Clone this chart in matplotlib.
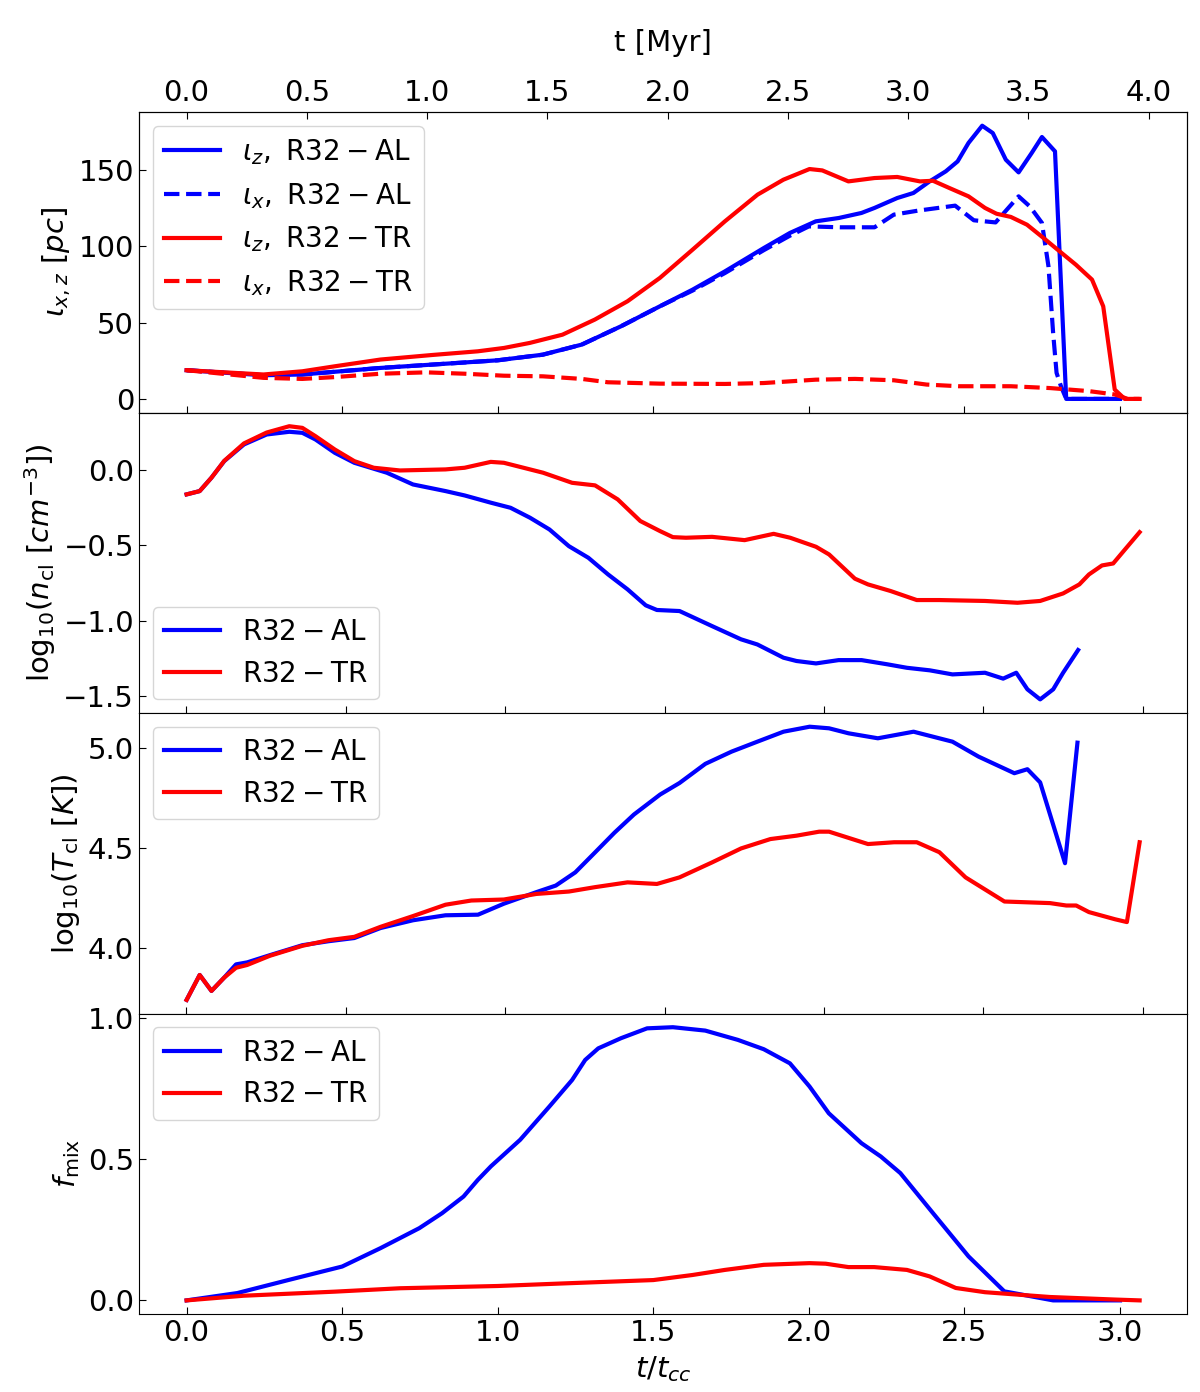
import matplotlib
matplotlib.use('Agg')
import matplotlib.pyplot as plt
import numpy as np

# t_cc in Myr (top axis conversion)
t_cc = 1.2937

# panel 1: iota_z, iota_x [pc]
t_lz_al = [0.0, 0.247, 0.372, 0.623, 0.79, 1.0, 1.145, 1.27, 1.396, 1.521, 1.626, 1.73, 1.855, 1.939,
           2.022, 2.096, 2.169, 2.211, 2.284, 2.336, 2.388, 2.44, 2.478, 2.513, 2.557, 2.591, 2.633,
           2.674, 2.716, 2.749, 2.791, 2.827, 3.0]
lz_al = [18.8, 15.5, 16.0, 20.3, 22.5, 25.3, 29.0, 35.6, 47.6, 60.7, 71.6, 83.6, 98.9, 108.8,
         116.4, 118.6, 121.9, 125.2, 131.7, 135.0, 142.6, 149.2, 155.7, 167.8, 179.1, 174.3, 156.8,
         148.5, 161.2, 171.7, 162.3, 0.0, 0.0]

t_lx_al = [0.0, 0.247, 0.372, 0.623, 0.79, 1.0, 1.145, 1.27, 1.396, 1.521, 1.626, 1.73, 1.855, 1.939,
           2.0, 2.1, 2.211, 2.273, 2.35, 2.47, 2.53, 2.6, 2.674, 2.71, 2.749, 2.77, 2.785, 2.796,
           2.81, 2.827, 3.0]
lx_al = [18.8, 15.5, 16.0, 20.3, 22.5, 25.3, 29.0, 35.6, 47.6, 60.7, 71.0, 82.5, 97.5, 107.0,
         113.1, 112.5, 112.5, 120.8, 123.4, 126.7, 117.1, 115.7, 132.8, 126.2, 115.4, 86.9, 43.2, 17.1,
         8.4, 0.0, 0.0]

t_lz_tr = [0.0, 0.247, 0.372, 0.477, 0.623, 0.79, 0.936, 1.02, 1.103, 1.208, 1.312, 1.417, 1.521,
           1.626, 1.73, 1.835, 1.918, 2.002, 2.043, 2.127, 2.211, 2.284, 2.357, 2.399, 2.451, 2.513,
           2.566, 2.603, 2.649, 2.701, 2.754, 2.806, 2.858, 2.91, 2.946, 2.983, 3.015, 3.063]
lz_tr = [18.8, 16.0, 18.1, 21.4, 25.8, 28.8, 31.2, 33.4, 36.7, 42.1, 52.0, 64.0, 79.3,
         97.8, 116.4, 133.9, 143.7, 150.7, 149.8, 142.6, 144.8, 145.5, 142.6, 143.0, 138.3, 132.8,
         125.2, 121.4, 119.3, 114.2, 105.5, 96.7, 88.0, 78.2, 60.7, 6.1, 0.0, 0.0]

t_lx_tr = [0.0, 0.247, 0.372, 0.477, 0.623, 0.77, 0.894, 1.02, 1.145, 1.27, 1.354, 1.521, 1.73,
           1.855, 2.022, 2.148, 2.273, 2.378, 2.482, 2.649, 2.775, 2.9, 2.983, 3.025, 3.063]
lx_tr = [18.8, 13.8, 13.1, 14.3, 16.5, 17.4, 16.5, 15.2, 14.8, 13.1, 10.9, 10.0, 9.8,
         10.4, 12.6, 13.1, 12.2, 9.4, 8.3, 8.3, 7.1, 5.1, 2.9, 0.0, 0.0]

# panel 2: log10(n_cl)
t_n_al = [0.001, 0.042, 0.079, 0.119, 0.181, 0.252, 0.323, 0.364, 0.405, 0.466, 0.527, 0.629, 0.711,
          0.813, 0.873, 0.955, 1.017, 1.078, 1.139, 1.2, 1.261, 1.323, 1.384, 1.441, 1.476, 1.547,
          1.649, 1.74, 1.791, 1.873, 1.914, 1.975, 2.046, 2.118, 2.199, 2.26, 2.332, 2.403, 2.505,
          2.562, 2.603, 2.638, 2.678, 2.719, 2.75, 2.797]
n_al = [-0.161, -0.139, -0.05, 0.06, 0.171, 0.237, 0.255, 0.248, 0.204, 0.115, 0.049, -0.017, -0.095,
        -0.139, -0.168, -0.216, -0.25, -0.316, -0.394, -0.505, -0.582, -0.693, -0.792, -0.898, -0.929,
        -0.936, -1.036, -1.124, -1.158, -1.246, -1.268, -1.284, -1.262, -1.262, -1.29, -1.313, -1.33,
        -1.357, -1.346, -1.385, -1.346, -1.456, -1.523, -1.456, -1.346, -1.195]

t_n_tr = [0.001, 0.042, 0.079, 0.119, 0.181, 0.252, 0.323, 0.364, 0.405, 0.466, 0.527, 0.588, 0.67,
          0.813, 0.873, 0.955, 0.996, 1.078, 1.119, 1.21, 1.282, 1.353, 1.424, 1.486, 1.526, 1.567,
          1.649, 1.751, 1.842, 1.894, 1.975, 2.016, 2.097, 2.138, 2.209, 2.291, 2.362, 2.505, 2.607,
          2.678, 2.75, 2.801, 2.831, 2.872, 2.907, 2.944, 2.99]
n_tr = [-0.161, -0.139, -0.05, 0.062, 0.178, 0.25, 0.292, 0.281, 0.226, 0.137, 0.06, 0.016, -0.002,
        0.005, 0.016, 0.055, 0.049, 0.005, -0.017, -0.084, -0.101, -0.194, -0.338, -0.405, -0.445,
        -0.449, -0.443, -0.465, -0.423, -0.449, -0.509, -0.56, -0.721, -0.759, -0.803, -0.863,
        -0.863, -0.869, -0.881, -0.869, -0.819, -0.759, -0.693, -0.633, -0.62, -0.527, -0.412]

# panel 3: log10(T_cl)
t_T_al = [0.001, 0.042, 0.079, 0.119, 0.156, 0.191, 0.262, 0.364, 0.446, 0.527, 0.609, 0.711, 0.813,
          0.915, 0.996, 1.098, 1.159, 1.22, 1.282, 1.343, 1.404, 1.486, 1.547, 1.628, 1.71, 1.791,
          1.873, 1.955, 2.016, 2.077, 2.169, 2.281, 2.403, 2.485, 2.597, 2.638, 2.678, 2.756, 2.795]
T_al = [3.739, 3.864, 3.784, 3.851, 3.917, 3.927, 3.963, 4.013, 4.033, 4.049, 4.099, 4.138, 4.163,
        4.166, 4.221, 4.279, 4.312, 4.378, 4.478, 4.577, 4.668, 4.768, 4.826, 4.922, 4.983, 5.033,
        5.083, 5.108, 5.1, 5.075, 5.05, 5.083, 5.033, 4.958, 4.875, 4.895, 4.829, 4.424, 5.028]

t_T_tr = [0.001, 0.042, 0.079, 0.119, 0.156, 0.191, 0.262, 0.364, 0.446, 0.527, 0.609, 0.711, 0.813,
          0.894, 0.996, 1.098, 1.2, 1.282, 1.384, 1.476, 1.547, 1.649, 1.74, 1.832, 1.914, 1.985,
          2.016, 2.138, 2.22, 2.291, 2.362, 2.444, 2.566, 2.709, 2.76, 2.791, 2.831, 2.913, 2.95, 2.99]
T_tr = [3.739, 3.864, 3.784, 3.851, 3.9, 3.914, 3.96, 4.01, 4.038, 4.055, 4.105, 4.159, 4.216,
        4.237, 4.242, 4.27, 4.282, 4.304, 4.328, 4.32, 4.353, 4.428, 4.498, 4.545, 4.562, 4.582,
        4.582, 4.52, 4.529, 4.529, 4.479, 4.353, 4.232, 4.224, 4.212, 4.212, 4.179, 4.143, 4.129, 4.529]

# panel 4: f_mix
t_f_al = [0.0, 0.163, 0.33, 0.5, 0.623, 0.748, 0.821, 0.89, 0.936, 0.978, 1.072, 1.166, 1.239, 1.281,
          1.323, 1.396, 1.48, 1.563, 1.667, 1.772, 1.855, 1.939, 2.002, 2.064, 2.169, 2.231, 2.294,
          2.399, 2.513, 2.628, 2.785, 3.0]
f_al = [0.0, 0.026, 0.073, 0.12, 0.185, 0.256, 0.309, 0.368, 0.427, 0.475, 0.569, 0.687, 0.781, 0.852,
        0.893, 0.929, 0.964, 0.968, 0.956, 0.923, 0.89, 0.84, 0.758, 0.663, 0.557, 0.51, 0.451,
        0.309, 0.156, 0.032, 0.0, 0.0]

t_f_tr = [0.0, 0.183, 0.477, 0.686, 1.0, 1.208, 1.5, 1.626, 1.73, 1.855, 2.002, 2.054, 2.127, 2.21,
          2.315, 2.388, 2.472, 2.566, 2.775, 2.983, 3.063]
f_tr = [0.0, 0.0165, 0.031, 0.043, 0.051, 0.06, 0.072, 0.09, 0.108, 0.126, 0.132, 0.13, 0.118, 0.118,
        0.108, 0.085, 0.044, 0.029, 0.012, 0.003, 0.0]

fs = 21
lw = 3
plt.rcParams['mathtext.fontset'] = 'dejavusans'

fig = plt.figure(figsize=(12, 13.92), dpi=100)
gs = fig.add_gridspec(4, 1, left=0.1158, right=0.9894, top=0.9195, bottom=0.056, hspace=0)
axs = [fig.add_subplot(gs[i]) for i in range(4)]

ax = axs[0]
ax.plot(t_lz_al, lz_al, c='b', lw=lw, label=r'$\iota_z,\ \mathrm{R32-AL}$')
ax.plot(t_lx_al, lx_al, c='b', lw=lw, ls='--', label=r'$\iota_x,\ \mathrm{R32-AL}$')
ax.plot(t_lz_tr, lz_tr, c='r', lw=lw, label=r'$\iota_z,\ \mathrm{R32-TR}$')
ax.plot(t_lx_tr, lx_tr, c='r', lw=lw, ls='--', label=r'$\iota_x,\ \mathrm{R32-TR}$')
ax.set_ylabel(r'$\iota_{x,z}\ [pc]$', fontsize=fs)
ax.legend(loc='upper left', fontsize=fs - 1)

ax = axs[1]
ax.plot(t_n_al, n_al, c='b', lw=lw, label=r'$\mathrm{R32-AL}$')
ax.plot(t_n_tr, n_tr, c='r', lw=lw, label=r'$\mathrm{R32-TR}$')
ax.set_ylabel(r'$\mathrm{log}_{10}(n_{\rm cl}\ [cm^{-3}])$', fontsize=fs)
ax.legend(loc='lower left', fontsize=fs - 1)

ax = axs[2]
ax.plot(t_T_al, T_al, c='b', lw=lw, label=r'$\mathrm{R32-AL}$')
ax.plot(t_T_tr, T_tr, c='r', lw=lw, label=r'$\mathrm{R32-TR}$')
ax.set_ylabel(r'$\mathrm{log}_{10}(T_{\rm cl}\ [K])$', fontsize=fs)
ax.set_yticks([4.0, 4.5, 5.0])
ax.legend(loc='upper left', fontsize=fs - 1)

ax = axs[3]
ax.plot(t_f_al, f_al, c='b', lw=lw, label=r'$\mathrm{R32-AL}$')
ax.plot(t_f_tr, f_tr, c='r', lw=lw, label=r'$\mathrm{R32-TR}$')
ax.set_ylabel(r'$f_{\rm mix}$', fontsize=fs)
ax.set_xlabel(r'$t/t_{cc}$', fontsize=fs, labelpad=5)
ax.set_yticks([0.0, 0.5, 1.0])
ax.legend(loc='upper left', fontsize=fs - 1)

for i, ax in enumerate(axs):
    ax.set_xticks(np.arange(0, 3.01, 0.5))
    ax.tick_params(direction='in', labelsize=fs, length=5)
    if i < 3:
        ax.tick_params(labelbottom=False)

axs[0].set_yticks([0, 50, 100, 150])
axs[1].set_yticks([0.0, -0.5, -1.0, -1.5])

# top axis in Myr
ax_top = axs[0].twiny()
x0, x1 = axs[0].get_xlim()
ax_top.set_xlim(x0 * t_cc, x1 * t_cc)
ax_top.set_xticks(np.arange(0, 4.01, 0.5))
ax_top.tick_params(direction='in', labelsize=fs, length=5)
ax_top.set_xlabel('t [Myr]', fontsize=fs, labelpad=20)

plt.savefig('out.png', dpi=100)
